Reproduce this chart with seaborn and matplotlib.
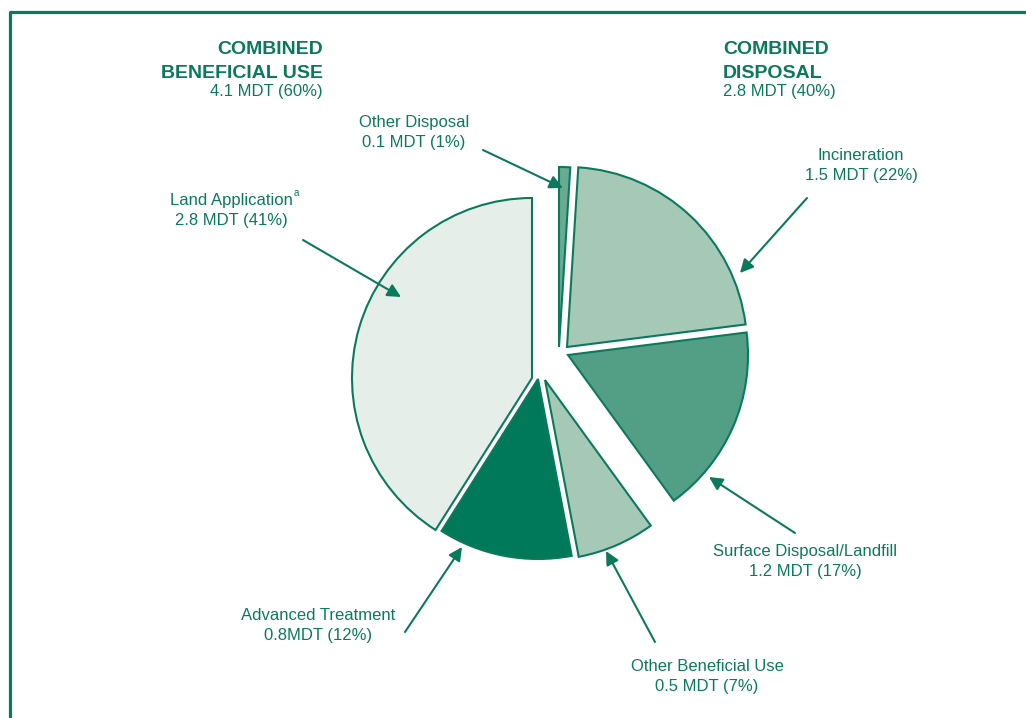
import matplotlib
matplotlib.use("Agg")
import matplotlib.pyplot as plt
import seaborn as sns

# wedges in clockwise order from 12 o'clock
categories = ["Other Disposal", "Incineration", "Surface Disposal/Landfill",
              "Other Beneficial Use", "Advanced Treatment", "Land Application"]
mdt = [0.1, 1.5, 1.2, 0.5, 0.8, 2.8]
percent = [1, 22, 17, 7, 12, 41]
amount_labels = ["0.1 MDT (1%)", "1.5 MDT (22%)", "1.2 MDT (17%)",
                 "0.5 MDT (7%)", "0.8MDT (12%)", "2.8 MDT (41%)"]

group_titles = ["COMBINED\nBENEFICIAL USE", "COMBINED\nDISPOSAL"]
group_totals = ["4.1 MDT (60%)", "2.8 MDT (40%)"]

GREEN = "#0B7A5C"
colors = ["#6AAA91", "#A6C8B7", "#529F85", "#A6C8B7", "#00785A", "#E6EEEA"]

sns.set_theme(style="white")
plt.rcParams["font.family"] = ["Liberation Sans", "DejaVu Sans"]

W, H = 1026, 718
fig = plt.figure(figsize=(W / 100, H / 100), dpi=100)
ax = fig.add_axes([0, 0, 1, 1])


def Y(py):
    # picture rows -> data y
    return H - py


CX, CY = 540, Y(378)
wedges, _ = ax.pie(percent, colors=colors, radius=180, center=(CX, CY),
                   startangle=90, counterclock=False,
                   wedgeprops=dict(edgecolor=GREEN, linewidth=1.5))

# "explode" each wedge (px, right / up); the disposal group is pulled up-right
wedge_shift = [(19, 31), (27, 31), (28, 23), (5, -2), (-2, -1), (-8, 0)]
for w, (dx, dy) in zip(wedges, wedge_shift):
    w.set_center((CX + dx, CY + dy))

ax.set_xlim(0, W)
ax.set_ylim(0, H)
ax.set_aspect("equal")
ax.axis("off")

# frame (top and left edges visible)
ax.plot([9.5, 9.5, W], [0, Y(11.5), Y(11.5)], color=GREEN, lw=2.3,
        solid_capstyle="butt", clip_on=False)

# group headings
for (x, ha), title, total in zip([(323, "right"), (723, "left")], group_titles, group_totals):
    l1, l2 = title.split("\n")
    ax.text(x, Y(54), l1, ha=ha, va="baseline", fontsize=14, fontweight="bold", color=GREEN)
    ax.text(x, Y(78), l2, ha=ha, va="baseline", fontsize=14, fontweight="bold", color=GREEN)
    ax.text(x, Y(96), total, ha=ha, va="baseline", fontsize=12, color=GREEN)

# slice labels: (x centre, first baseline), arrow tail, arrow head
label_pos = [(414, 127), (861, 160), (805, 556), (707, 671), (318, 620), (231, 205)]
arrow_tail = [(483, 150), (807, 198), (795, 533), (655, 642), (405, 632), (303, 240)]
arrow_head = [(563, 188), (740, 273), (709, 477), (606, 551), (462, 547), (401, 297)]

for name, amt, (x, b), t, h in zip(categories, amount_labels, label_pos, arrow_tail, arrow_head):
    ax.text(x, Y(b), name, ha="center", va="baseline", fontsize=12, color=GREEN)
    ax.text(x, Y(b + 20), amt, ha="center", va="baseline", fontsize=12, color=GREEN)
    ax.annotate("", xy=(h[0], Y(h[1])), xytext=(t[0], Y(t[1])),
                arrowprops=dict(arrowstyle="-|>", color=GREEN, lw=1.5,
                                mutation_scale=20, shrinkA=0, shrinkB=0))

# footnote marker on Land Application
ax.text(294, Y(196), "a", ha="left", va="baseline", fontsize=7, color=GREEN)

fig.savefig("out.png", dpi=100)
